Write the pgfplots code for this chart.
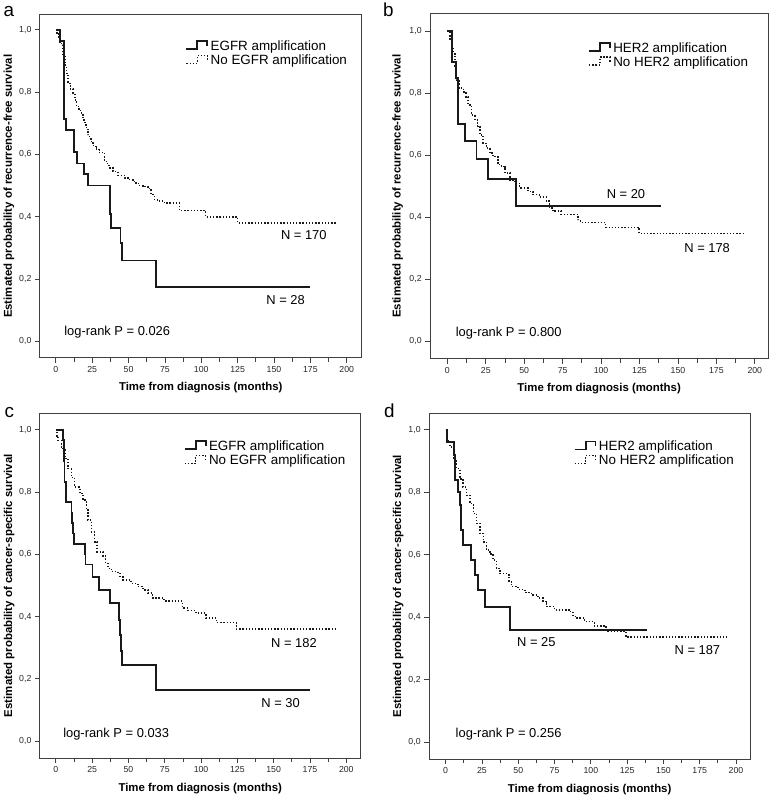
\documentclass[border=0pt]{standalone}
\usepackage{fontspec}
\setmainfont{Liberation Sans}
\usepackage{pgfplots}
\pgfplotsset{compat=1.18}
\pgfplotsset{
 kmaxis/.style={
   scale only axis, anchor=north west,
   axis line style={black!75, line width=1bp},
   xtick={0,25,...,200}, minor x tick num=1,
   ytick={0,0.2,0.4,0.6,0.8,1},
   xtick pos=left, ytick pos=left,
   tick align=outside,
   major tick length=5bp, minor tick length=4bp,
   tick style={black!75, line width=0.8bp},
   tick label style={font=\fontsize{8.8}{10}\selectfont, text=black!85},
   /pgf/number format/assume math mode=true,
   y tick label style={/pgf/number format/.cd, fixed, fixed zerofill, precision=1, use comma, /tikz/.cd},
   label style={font=\bfseries\fontsize{11.5}{13}\selectfont},
   xlabel={Time from diagnosis (months)},
   xlabel style={at={(axis description cs:0.5,-0.087)}, anchor=center},
   ylabel style={at={(axis description cs:-0.096,0.5)}, anchor=center},
   legend style={draw=none, fill=none, inner sep=0pt, font=\fontsize{13.5}{16}\selectfont,
     row sep=0bp, column sep=1bp, anchor=north west, nodes={inner sep=1.5bp}},
   legend cell align=left,
   legend image code/.code={\draw[##1] (0bp,-3bp) -- (11bp,-3bp) -- (11bp,5bp) -- (21bp,5bp) -- (21bp,0bp);},
   every axis plot/.append style={const plot},
 },
 kms/.style={black!90, line width=1.8bp},
 kmd/.style={black!90, line width=1.5bp, dash pattern=on 1.4bp off 1.8bp},
}
\newcommand{\txt}{\fontsize{13}{15}\selectfont}
\begin{document}
\begin{tikzpicture}
\path (0,0) rectangle (778bp,-798bp);
\node[anchor=base west, font=\fontsize{19}{21}\selectfont] at (0bp,-15bp) {a};
\node[anchor=base west, font=\fontsize{19}{21}\selectfont] at (381bp,-15bp) {b};
\node[anchor=base west, font=\fontsize{19}{21}\selectfont] at (1bp,-417bp) {c};
\node[anchor=base west, font=\fontsize{19}{21}\selectfont] at (382bp,-417bp) {d};

% Panel a
\begin{axis}[kmaxis, at={(40bp,-13bp)}, width=323bp, height=344bp,
  xmin=-11, xmax=210.3, ymin=-0.052, ymax=1.047,
  ylabel={Estimated probability of recurrence-free survival},
  legend style={at={(axis cs:89,0.97)}}]
\addplot[kms] coordinates {(0,1)(2.7,0.964)(5.5,0.714)(6.9,0.679)(12.3,0.607)(14.6,0.571)(19.6,0.536)(22.1,0.5)(37,0.455)(37.5,0.409)(38,0.364)(44.5,0.316)(45.6,0.26)(69,0.174)(175,0.174)};
\addplot[kmd] coordinates {(0,1)(0.9,0.99)(2,0.975)(3,0.96)(3.9,0.95)(5,0.92)(6.2,0.886)(7.3,0.86)(8.4,0.828)(10,0.81)(11.9,0.796)(13,0.775)(14.2,0.753)(16,0.74)(17.6,0.727)(18.8,0.71)(19.9,0.695)(21,0.68)(22.1,0.663)(23.3,0.65)(24.4,0.636)(26,0.625)(27.9,0.615)(30,0.606)(33.6,0.577)(35.5,0.565)(37,0.556)(39.3,0.545)(42.7,0.533)(47.3,0.524)(50,0.519)(53,0.513)(55,0.507)(57.5,0.5)(60,0.497)(63.2,0.49)(65.5,0.471)(67.8,0.455)(70,0.45)(74.7,0.444)(85,0.42)(103,0.40)(125,0.38)(193.5,0.38)};
\legend{EGFR amplification, No EGFR amplification}
\node[font=\txt] at (axis cs:170.5,0.34) {N = 170};
\node[font=\txt] at (axis cs:158,0.132) {N = 28};
\node[font=\txt, anchor=west] at (axis cs:3.4,0.029) {log-rank P = 0.026};
\end{axis}

% Panel b
\begin{axis}[kmaxis, at={(431.7bp,-11.7bp)}, width=339.3bp, height=346.3bp,
  xmin=-11.2, xmax=208.7, ymin=-0.056, ymax=1.057,
  ylabel={Estimated probability of recurrence-free survival},
  legend style={at={(axis cs:91.4,0.97)}}]
\addplot[kms] coordinates {(0,1)(3.2,0.9)(5.4,0.85)(6.7,0.7)(11.4,0.647)(19,0.588)(26.6,0.523)(44.5,0.436)(139,0.436)};
\addplot[kmd] coordinates {(0,1)(1.7,0.97)(3,0.95)(3.9,0.928)(5,0.885)(6,0.843)(7.6,0.818)(10.4,0.805)(12.1,0.789)(13.6,0.762)(15.8,0.73)(17.9,0.714)(19.7,0.693)(21.2,0.666)(23.3,0.639)(25.5,0.623)(27.6,0.607)(29.8,0.596)(33,0.57)(35.2,0.564)(37.4,0.543)(40.6,0.521)(43.8,0.51)(47,0.495)(52.5,0.484)(55.7,0.473)(60,0.465)(64.4,0.452)(66.5,0.43)(68.7,0.42)(74,0.409)(85,0.393)(86.6,0.384)(103,0.368)(124.8,0.348)(194,0.348)};
\legend{HER2 amplification, No HER2 amplification}
\node[font=\txt] at (axis cs:116.2,0.475) {N = 20};
\node[font=\txt] at (axis cs:169,0.3) {N = 178};
\node[font=\txt, anchor=west] at (axis cs:3.2,0.027) {log-rank P = 0.800};
\end{axis}

% Panel c
\begin{axis}[kmaxis, at={(40bp,-412.7bp)}, width=322bp, height=346.3bp,
  xmin=-11, xmax=209.9, ymin=-0.055, ymax=1.053,
  ylabel={Estimated probability of cancer-specific survival},
  legend style={at={(axis cs:88,0.97)}}]
\addplot[kms] coordinates {(0,1)(5,0.967)(5.5,0.9)(6,0.833)(6.9,0.767)(10.8,0.733)(11.3,0.7)(11.8,0.667)(12.3,0.633)(19.9,0.6)(20.4,0.567)(25.2,0.528)(29.7,0.486)(37.5,0.443)(43.4,0.39)(44.2,0.34)(44.8,0.29)(45.5,0.245)(69,0.163)(175.3,0.163)};
\addplot[kmd] coordinates {(0,1)(0.8,0.98)(1.6,0.966)(3.9,0.939)(6.2,0.907)(8.5,0.875)(10.7,0.846)(13,0.816)(16.5,0.795)(18.7,0.774)(21,0.742)(22.2,0.71)(24.5,0.672)(26.7,0.64)(28.5,0.608)(32.5,0.595)(34.3,0.571)(35.9,0.555)(38.2,0.544)(42.7,0.539)(44.3,0.528)(46.2,0.518)(51.9,0.507)(56.5,0.496)(60,0.486)(63.3,0.475)(66.7,0.459)(73.6,0.455)(75.9,0.45)(87.3,0.427)(90.7,0.419)(96.5,0.411)(103.3,0.395)(110.6,0.381)(124.3,0.36)(193.6,0.36)};
\legend{EGFR amplification, No EGFR amplification}
\node[font=\txt] at (axis cs:164,0.315) {N = 182};
\node[font=\txt] at (axis cs:154.8,0.123) {N = 30};
\node[font=\txt, anchor=west] at (axis cs:2.7,0.021) {log-rank P = 0.033};
\end{axis}

% Panel d
\begin{axis}[kmaxis, at={(430.7bp,-412.7bp)}, width=322.3bp, height=347.3bp,
  xmin=-11.4, xmax=209.8, ymin=-0.055, ymax=1.053,
  ylabel={Estimated probability of cancer-specific survival},
  legend style={at={(axis cs:88.1,0.97)}}]
\addplot[kms] coordinates {(0,1)(0.7,0.96)(5.5,0.92)(6.4,0.84)(8.7,0.8)(9.8,0.76)(10.5,0.68)(12.2,0.632)(17.2,0.582)(20.2,0.534)(22,0.486)(27,0.432)(44.5,0.36)(138.7,0.36)};
\addplot[kmd] coordinates {(0,1)(1.4,0.966)(3,0.945)(5.3,0.907)(7.6,0.876)(9.8,0.843)(12.1,0.817)(14.4,0.79)(16.7,0.764)(19,0.732)(21.3,0.7)(23.6,0.668)(25.9,0.641)(28.1,0.615)(30.4,0.602)(32.7,0.583)(35,0.556)(37.3,0.54)(41.9,0.535)(43.5,0.514)(45.3,0.498)(49.9,0.489)(54.5,0.479)(59,0.471)(63.6,0.461)(67,0.45)(69.3,0.434)(75,0.423)(85.4,0.418)(87.6,0.402)(89.9,0.397)(95.7,0.386)(102.5,0.372)(110.5,0.36)(111.7,0.354)(124.3,0.336)(194,0.336)};
\legend{HER2 amplification, No HER2 amplification}
\node[font=\txt] at (axis cs:62.5,0.32) {N = 25};
\node[font=\txt] at (axis cs:173.4,0.296) {N = 187};
\node[font=\txt, anchor=west] at (axis cs:4.5,0.024) {log-rank P = 0.256};
\end{axis}
\end{tikzpicture}
\end{document}
